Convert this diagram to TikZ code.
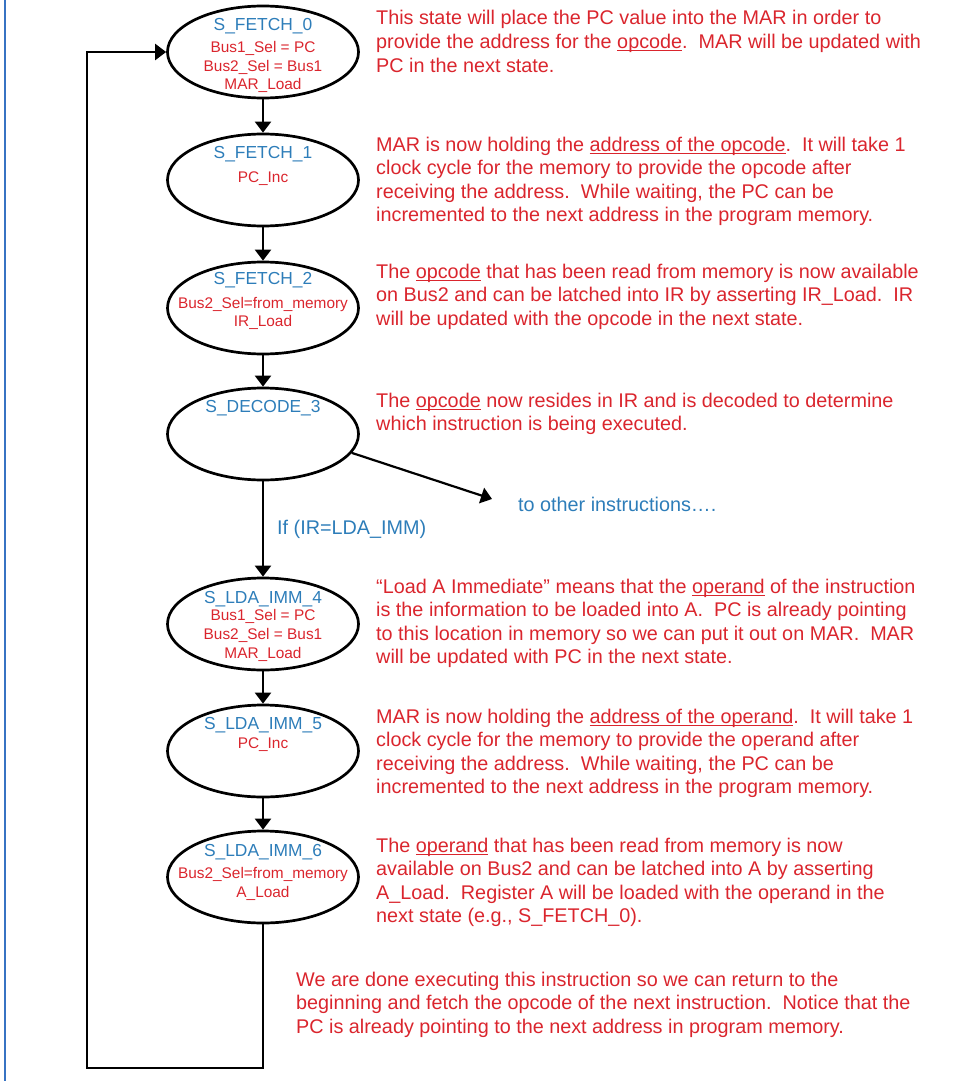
\documentclass[tikz,border=0pt]{standalone}
\usepackage{fontspec}
\setmainfont{Liberation Sans}
\usetikzlibrary{arrows.meta,shapes.geometric}
\definecolor{myred}{RGB}{218,37,45}
\definecolor{myblue}{RGB}{45,125,185}
\definecolor{barblue}{RGB}{55,115,195}
\newcommand\myul[1]{\setbox0\hbox{#1}\rlap{\raisebox{-3pt}{\rule{\wd0}{1.4pt}}}\box0\relax}
\begin{document}
\begin{tikzpicture}[x=1pt,y=-1pt,
  state/.style={draw=black, line width=2.7pt, ellipse, minimum width=191pt, minimum height=92pt, inner sep=0pt},
  arr/.style={draw=black, line width=2.2pt, -{Triangle[length=11pt,width=16pt]}},
  txt/.style={anchor=base west, inner sep=0pt, text=myred, font=\fontsize{19.8}{23.5}\selectfont},
  stitle/.style={anchor=base, inner sep=0pt, text=myblue, font=\fontsize{17.4}{20}\selectfont},
  sbody/.style={anchor=base, inner sep=0pt, text=myred, font=\fontsize{15.4}{18}\selectfont},
  blab/.style={anchor=base west, inner sep=0pt, text=myblue, font=\fontsize{19.8}{23.5}\selectfont}]
\useasboundingbox (0,0) rectangle (957,1081);
\draw[barblue, line width=2.6pt] (5,0) -- (5,1081);

% states
\node[state] (s0) at (263,52) {};
\node[state] (s1) at (263,180) {};
\node[state] (s2) at (263,308) {};
\node[state] (s3) at (263,434) {};
\node[state] (s4) at (263,624) {};
\node[state] (s5) at (263,751) {};
\node[state] (s6) at (263,877) {};

\node[stitle] (s0t) at (263,31) {S\_FETCH\_0};
\node[sbody] (s0a) at (263,52.5) {Bus1\_Sel = PC};
\node[sbody] (s0b) at (263,71.5) {Bus2\_Sel = Bus1};
\node[sbody] (s0c) at (263,89.5) {MAR\_Load};

\node[stitle] (s1t) at (263,158) {S\_FETCH\_1};
\node[sbody] (s1a) at (263,182.5) {PC\_Inc};

\node[stitle] (s2t) at (263,284) {S\_FETCH\_2};
\node[sbody] (s2a) at (263,308.5) {Bus2\_Sel=from\_memory};
\node[sbody] (s2b) at (263,326.5) {IR\_Load};

\node[stitle] (s3t) at (263,412) {S\_DECODE\_3};

\node[stitle] (s4t) at (263,603) {S\_LDA\_IMM\_4};
\node[sbody] (s4a) at (263,620.5) {Bus1\_Sel = PC};
\node[sbody] (s4b) at (263,639.5) {Bus2\_Sel = Bus1};
\node[sbody] (s4c) at (263,658.5) {MAR\_Load};

\node[stitle] (s5t) at (263,729.5) {S\_LDA\_IMM\_5};
\node[sbody] (s5a) at (263,748.5) {PC\_Inc};

\node[stitle] (s6t) at (263,856) {S\_LDA\_IMM\_6};
\node[sbody] (s6a) at (263,878.5) {Bus2\_Sel=from\_memory};
\node[sbody] (s6b) at (263,897) {A\_Load};

% connectors
\draw[arr] (s0.south) -- (s1.north);
\draw[arr] (s1.south) -- (s2.north);
\draw[arr] (s2.south) -- (s3.north);
\draw[arr] (s3.south) -- (s4.north);
\draw[arr] (s4.south) -- (s5.north);
\draw[arr] (s5.south) -- (s6.north);
\coordinate (oth) at (492,499);
\draw[arr] (s3.-12) -- (oth);
\coordinate (lb) at (87,1068);
\draw[arr] (s6.south) |- (lb) |- (s0.west);

\node[blab] (cond) at (277,534) {If (IR=LDA\_IMM)};
\node[blab] (other) at (518,511) {to other instructions\ldots.};

% block 1
\node[txt] (b1a) at (376,25) {This state will place the PC value into the MAR in order to};
\node[txt] (b1b) at (376,48.5) {provide the address for the \myul{opcode}.\ \ MAR will be updated with};
\node[txt] (b1c) at (376,72) {PC in the next state.};
% block 2
\node[txt] (b2a) at (376,151) {MAR is now holding the \myul{address of the opcode}.\ \ It will take 1};
\node[txt] (b2b) at (376,174.5) {clock cycle for the memory to provide the opcode after};
\node[txt] (b2c) at (376,198) {receiving the address.\ \ While waiting, the PC can be};
\node[txt] (b2d) at (376,221.5) {incremented to the next address in the program memory.};
% block 3
\node[txt] (b3a) at (376,278) {The \myul{opcode} that has been read from memory is now available};
\node[txt] (b3b) at (376,301.5) {on Bus2 and can be latched into IR by asserting IR\_Load.\ \ IR};
\node[txt] (b3c) at (376,325) {will be updated with the opcode in the next state.};
% block 4
\node[txt] (b4a) at (376,407) {The \myul{opcode} now resides in IR and is decoded to determine};
\node[txt] (b4b) at (376,430.5) {which instruction is being executed.};
% block 5
\node[txt] (b5a) at (376,593) {“Load A Immediate” means that the \myul{operand} of the instruction};
\node[txt] (b5b) at (376,616.5) {is the information to be loaded into A.\ \ PC is already pointing};
\node[txt] (b5c) at (376,640) {to this location in memory so we can put it out on MAR.\ \ MAR};
\node[txt] (b5d) at (376,663.5) {will be updated with PC in the next state.};
% block 6
\node[txt] (b6a) at (376,723) {MAR is now holding the \myul{address of the operand}.\ \ It will take 1};
\node[txt] (b6b) at (376,746.5) {clock cycle for the memory to provide the operand after};
\node[txt] (b6c) at (376,770) {receiving the address.\ \ While waiting, the PC can be};
\node[txt] (b6d) at (376,793.5) {incremented to the next address in the program memory.};
% block 7
\node[txt] (b7a) at (376,852) {The \myul{operand} that has been read from memory is now};
\node[txt] (b7b) at (376,875.5) {available on Bus2 and can be latched into A by asserting};
\node[txt] (b7c) at (376,899) {A\_Load.\ \ Register A will be loaded with the operand in the};
\node[txt] (b7d) at (376,922.5) {next state (e.g., S\_FETCH\_0).};
% block 8
\node[txt] (b8a) at (296,986) {We are done executing this instruction so we can return to the};
\node[txt] (b8b) at (296,1009.5) {beginning and fetch the opcode of the next instruction.\ \ Notice that the};
\node[txt] (b8c) at (296,1033) {PC is already pointing to the next address in program memory.};
\end{tikzpicture}
\end{document}
